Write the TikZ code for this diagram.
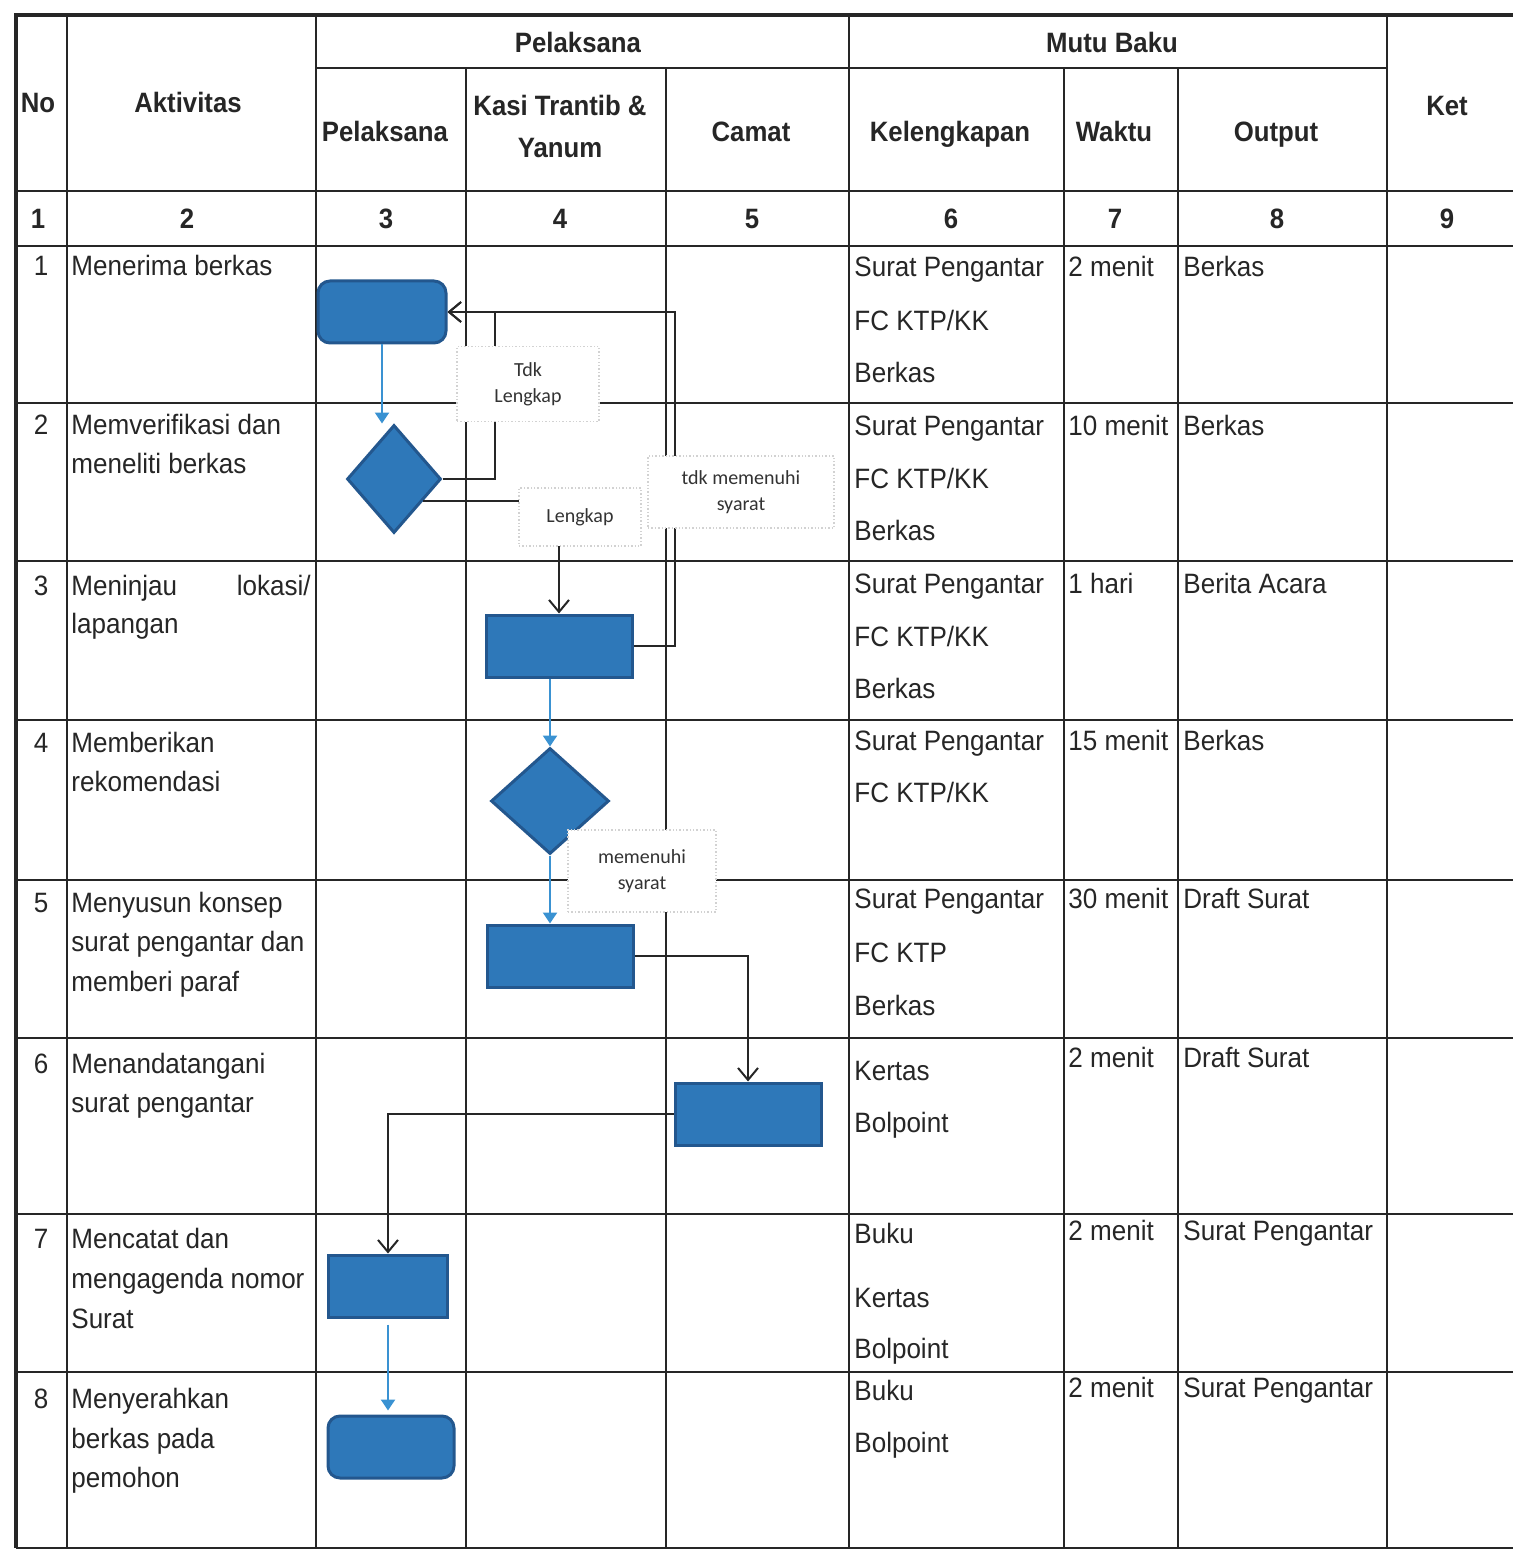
\documentclass[tikz,border=0pt]{standalone}
\usepackage{fontspec}
\setmainfont{Liberation Sans}[FakeStretch=0.93,BoldFeatures={FakeStretch=0.92}]
\newfontfamily\labelfont{Carlito}
\usetikzlibrary{arrows.meta,calc,positioning,shapes.geometric}
\definecolor{flowfill}{HTML}{2E78B9}
\definecolor{flowedge}{HTML}{23578E}
\definecolor{flowarrow}{HTML}{3A92D2}
\definecolor{inkgray}{HTML}{262626}
\tikzset{
  tabline/.style  = {draw=inkgray, line width=1.3pt},
  tabframe/.style = {draw=inkgray, line width=2.4pt},
  head/.style     = {anchor=base, font=\bfseries\fontsize{14}{20}\selectfont, text=inkgray, inner sep=0pt},
  cell/.style     = {anchor=base west, inner sep=0pt, font=\fontsize{14}{17}\selectfont, text=inkgray},
  proc/.style     = {rectangle, draw=flowedge, fill=flowfill, line width=1.5pt,
                     minimum width=73pt, minimum height=31pt, inner sep=0pt},
  term/.style     = {proc, rounded corners=6pt, minimum width=64pt},
  decide/.style   = {diamond, draw=flowedge, fill=flowfill, line width=1.5pt, inner sep=0pt,
                     minimum width=47pt, minimum height=54pt},
  flowline/.style = {draw=black!85, line width=1pt, -{Straight Barb[length=6pt,width=10pt]}},
  flowblue/.style = {draw=flowarrow, line width=1.2pt, -{Triangle[length=5.5pt,width=7pt]}},
  tagbox/.style   = {rectangle, fill=white, draw=gray!35, densely dotted, line width=0.7pt,
                     align=center, inner sep=0pt, text=black!80,
                     font=\labelfont\fontsize{10}{13}\selectfont},
}
\begin{document}
\begin{tikzpicture}[x=0.5pt,y=-0.5pt]
  \useasboundingbox (0,0) rectangle (1513,1551);
  % table
  \draw[tabframe] (16,1548) -- (16,15) -- (1513,15);
  \foreach \x in {67,316,849,1387} \draw[tabline] (\x,15) -- (\x,1548);
  \foreach \x in {466,666,1064,1178} \draw[tabline] (\x,68) -- (\x,1548);
  \draw[tabline] (316,68) -- (1387,68);
  \foreach \y in {191,246,403,561,720,880,1038,1214,1372,1548} \draw[tabline] (16,\y) -- (1513,\y);
  % header
  \node[head] (hno) at (38,113) {No};
  \node[head] (hakt) at (188,113) {Aktivitas};
  \node[head] (hpel) at (578,53) {Pelaksana};
  \node[head] (hmutu) at (1112,53) {Mutu Baku};
  \node[head] (hket) at (1447,116) {Ket};
  \node[head] (hpel3) at (385,142) {Pelaksana};
  \node[head] (hkasi) at (560,116) {Kasi Trantib \&};
  \node[head] (hyanum) at (560,158) {Yanum};
  \node[head] (hcamat) at (751,142) {Camat};
  \node[head] (hkel) at (950,142) {Kelengkapan};
  \node[head] (hwaktu) at (1114,142) {Waktu};
  \node[head] (hout) at (1276,142) {Output};
  \foreach \x [count=\k] in {38,187,386,560,752,951,1115,1277,1447}
    \node[head] (col\k) at (\x,229) {\k};
  % no + aktivitas
  \foreach \y [count=\k] in {276,434,595,752,912,1073,1248,1408}
    \node[cell, anchor=base] (no\k) at (41,\y) {\k};
  \node[cell] (akt1) at (71,276) {Menerima berkas};
  \node[cell] (akt2a) at (71,434) {Memverifikasi dan};
  \node[cell] (akt2b) at (71,473) {meneliti berkas};
  \node[cell] (akt3a) at (71,595) {Meninjau};
  \node[cell, anchor=base east] (akt3c) at (311,595) {lokasi/};
  \node[cell] (akt3b) at (71,633) {lapangan};
  \node[cell] (akt4a) at (71,752) {Memberikan};
  \node[cell] (akt4b) at (71,791) {rekomendasi};
  \node[cell] (akt5a) at (71,912) {Menyusun konsep};
  \node[cell] (akt5b) at (71,951) {surat pengantar dan};
  \node[cell] (akt5c) at (71,991) {memberi paraf};
  \node[cell] (akt6a) at (71,1073) {Menandatangani};
  \node[cell] (akt6b) at (71,1112) {surat pengantar};
  \node[cell] (akt7a) at (71,1248) {Mencatat dan};
  \node[cell] (akt7b) at (71,1288) {mengagenda nomor};
  \node[cell] (akt7c) at (71,1328) {Surat};
  \node[cell] (akt8a) at (71,1408) {Menyerahkan};
  \node[cell] (akt8b) at (71,1448) {berkas pada};
  \node[cell] (akt8c) at (71,1487) {pemohon};
  % kelengkapan
  \foreach \y [count=\k] in {277,435,593} {
    \node[cell] (kelA\k) at (854,\y) {Surat Pengantar};
    \node[cell] (kelB\k) at (854,\y+53) {FC KTP/KK};
    \node[cell] (kelC\k) at (854,\y+105) {Berkas};
  }
  \node[cell] (kelA4) at (854,750) {Surat Pengantar};
  \node[cell] (kelB4) at (854,802) {FC KTP/KK};
  \node[cell] (kelA5) at (854,908) {Surat Pengantar};
  \node[cell] (kelB5) at (854,962) {FC KTP};
  \node[cell] (kelC5) at (854,1015) {Berkas};
  \node[cell] (kelA6) at (854,1080) {Kertas};
  \node[cell] (kelB6) at (854,1132) {Bolpoint};
  \node[cell] (kelA7) at (854,1243) {Buku};
  \node[cell] (kelB7) at (854,1307) {Kertas};
  \node[cell] (kelC7) at (854,1358) {Bolpoint};
  \node[cell] (kelA8) at (854,1400) {Buku};
  \node[cell] (kelB8) at (854,1452) {Bolpoint};
  % waktu + output
  \foreach \y/\t [count=\k] in {277/2 menit,435/10 menit,593/1 hari,750/15 menit,
      908/30 menit,1067/2 menit,1240/2 menit,1397/2 menit}
    \node[cell] (waktu\k) at (1068,\y) {\t};
  \foreach \y/\t [count=\k] in {277/Berkas,435/Berkas,593/Berita Acara,750/Berkas,
      908/Draft Surat,1067/Draft Surat,1240/Surat Pengantar,1397/Surat Pengantar}
    \node[cell] (out\k) at (1183,\y) {\t};
  % flow
  \node[term] (start) at (382,312) {};
  \node[decide] (check) at (394,479) {};
  \node[proc] (survey) at (559,646) {};
  \node[decide, minimum width=59pt, minimum height=53pt] (recom) at (550,801) {};
  \node[proc] (draft) at (560,956) {};
  \node[proc] (sign) at (748,1114) {};
  \node[proc, minimum width=59.5pt] (record) at (388,1286) {};
  \node[term, minimum width=63pt] (handover) at (391,1447) {};
  \draw[flowblue] (start.south) -- (start.south |- check.north);
  \draw[flowline] (check.east) -- ++(52,0) |- (start.east);
  \draw[flowline] ($(check.east)!0.4!(check.south)$) -| (survey.north);
  \draw[flowline] (survey.east) -- ++(41,0) |- (start.east);
  \draw[flowblue] (survey.south -| recom.north) -- (recom.north);
  \draw[flowblue] (recom.south) -- (recom.south |- draft.north);
  \draw[flowline] (draft.east) -| (sign.north);
  \draw[flowline] (sign.west) -| (record.north);
  \draw[flowblue, shorten <=3pt, shorten >=2pt] (record.south) -- (record.south |- handover.north);
  % labels
  \node[tagbox, minimum width=71pt, minimum height=37.5pt] (nolengkap) at (528,384) {Tdk\\Lengkap};
  \node[tagbox, minimum width=61pt, minimum height=29pt] (lengkap) at (580,517) {Lengkap};
  \node[tagbox, minimum width=93pt, minimum height=36pt] (nosyarat) at (741,492) {tdk memenuhi\\syarat};
  \node[tagbox, minimum width=74pt, minimum height=41pt] (syarat) at (642,871) {memenuhi\\syarat};
\end{tikzpicture}
\end{document}
